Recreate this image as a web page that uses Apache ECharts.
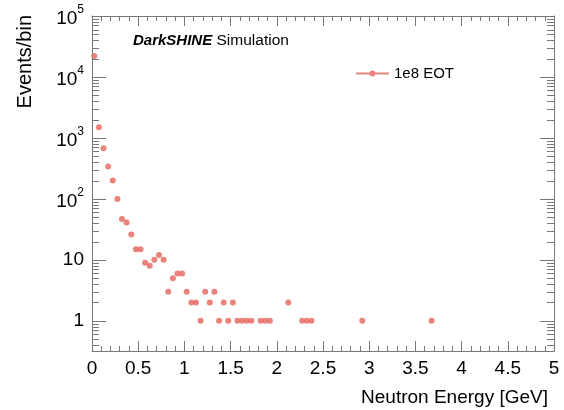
<!DOCTYPE html>
<html>
<head>
<meta charset="utf-8">
<script src="https://cdn.jsdelivr.net/npm/echarts@6/dist/echarts.min.js"></script>
<style>
  html, body { margin: 0; padding: 0; background: #fff; }
  #chart { width: 564px; height: 410px; }
</style>
</head>
<body>
<div id="chart"></div>
<script>
  // bin centres (GeV) and counts
  var energies = [0.025, 0.075, 0.125, 0.175, 0.225, 0.275, 0.325, 0.375, 0.425, 0.475,
    0.525, 0.575, 0.625, 0.675, 0.725, 0.775, 0.825, 0.875, 0.925, 0.975,
    1.025, 1.075, 1.125, 1.175, 1.225, 1.275, 1.325, 1.375, 1.425, 1.475,
    1.525, 1.575, 1.625, 1.675, 1.725, 1.825, 1.875, 1.925, 2.125, 2.275,
    2.325, 2.375, 2.925, 3.675];
  var counts = [22000, 1500, 680, 340, 200, 100, 47, 41, 26, 15,
    15, 9, 8, 10, 12, 10, 3, 5, 6, 6,
    3, 2, 2, 1, 3, 2, 3, 1, 2, 1,
    2, 1, 1, 1, 1, 1, 1, 1, 2, 1,
    1, 1, 1, 1];
  var seriesName = '1e8 EOT';
  var xTitle = 'Neutron Energy [GeV]';
  var yTitle = 'Events/bin';
  var xMin = 0, xMax = 5, xStep = 0.5;
  var yMin = 0.32, yMax = 1e5;

  var points = energies.map(function (e, i) { return [e, counts[i]]; });

  // log axis ticks: decades and 2..9 x 10^k in between
  var majorY = [];
  var minorY = [];
  for (var k = -1; k <= 4; k++) {
    var d = Math.pow(10, k);
    if (d > yMin && d < yMax) majorY.push([xMin, d]);
    for (var m = 2; m <= 9; m++) {
      var v = m * d;
      if (v >= yMin && v <= yMax) minorY.push([xMin, v]);
    }
  }

  var axisColor = '#777';
  var font = 'Liberation Sans, Arial, sans-serif';

  function yLabel(value) {
    var e = Math.round(Math.log(value) / Math.LN10);
    if (Math.abs(value - Math.pow(10, e)) > 1e-6 * value) return '';
    if (e === 0) return '1';
    if (e === 1) return '10';
    return '{b|10}{s|' + e + '}';
  }

  // ticks on both y sides, drawn through the y scale
  function tickSeries(name, data, len) {
    return {
      name: name,
      type: 'custom',
      silent: true,
      xAxisIndex: 0,
      yAxisIndex: 0,
      data: data,
      renderItem: function (params, api) {
        var val = api.value(1);
        var l = api.coord([xMin, val]);
        var r = api.coord([xMax, val]);
        var y = Math.round(l[1]) + 0.5;
        return {
          type: 'group',
          children: [
            { type: 'line', shape: { x1: l[0], y1: y, x2: l[0] + len, y2: y }, style: { stroke: axisColor, lineWidth: 1 } },
            { type: 'line', shape: { x1: r[0] - len, y1: y, x2: r[0], y2: y }, style: { stroke: axisColor, lineWidth: 1 } }
          ]
        };
      }
    };
  }

  var chart = echarts.init(document.getElementById('chart'), null, { renderer: 'canvas' });
  chart.setOption({
    backgroundColor: '#fff',
    animation: false,
    textStyle: { fontFamily: font },
    grid: { left: 92, right: 10, top: 16, bottom: 59, containLabel: false },
    legend: {
      data: [seriesName],
      left: 356,
      top: 66,
      padding: 0,
      itemWidth: 33,
      itemHeight: 6,
      icon: 'path://M0,2H33V4H0Z M16.5,0A3,3 0 1 1 16.49,0Z',
      textStyle: { fontSize: 15, color: '#000', fontFamily: font }
    },
    graphic: [
      {
        type: 'text', left: 133, top: 33,
        style: {
          text: '{a|DarkSHINE}{b| Simulation}',
          rich: {
            a: { fontSize: 15, fontWeight: 'bold', fontStyle: 'italic', fill: '#000', fontFamily: font },
            b: { fontSize: 15.5, fill: '#000', fontFamily: font }
          }
        }
      },
      {
        type: 'text', x: 548, y: 398,
        style: { text: xTitle, fontSize: 19, fill: '#000', align: 'right', verticalAlign: 'middle', fontFamily: font }
      },
      {
        type: 'text', x: 25, y: 15, rotation: Math.PI / 2,
        style: { text: yTitle, fontSize: 20, fill: '#000', align: 'right', verticalAlign: 'middle', fontFamily: font }
      }
    ],
    xAxis: [{
      type: 'value', min: xMin, max: xMax, interval: xStep,
      axisLine: { show: true, onZero: false, lineStyle: { color: axisColor } },
      axisTick: { show: true, inside: true, length: 10, lineStyle: { color: axisColor } },
      minorTick: { show: true, splitNumber: 5, length: 5, lineStyle: { color: axisColor } },
      axisLabel: { inside: false, fontSize: 19, color: '#000', margin: 8, fontFamily: font },
      splitLine: { show: false }
    }, {
      type: 'value', position: 'top', min: xMin, max: xMax, interval: xStep,
      axisLine: { show: true, onZero: false, lineStyle: { color: axisColor } },
      axisTick: { show: true, inside: true, length: 10, lineStyle: { color: axisColor } },
      minorTick: { show: true, splitNumber: 5, length: 5, lineStyle: { color: axisColor } },
      axisLabel: { show: false },
      splitLine: { show: false }
    }],
    yAxis: [{
      type: 'log', min: yMin, max: yMax, logBase: 10,
      axisLine: { show: true, onZero: false, lineStyle: { color: axisColor } },
      axisTick: { show: false },
      axisLabel: {
        fontSize: 19, color: '#000', margin: 8, fontFamily: font,
        showMinLabel: true, showMaxLabel: true,
        formatter: yLabel,
        rich: {
          b: { fontSize: 19, fontFamily: font, verticalAlign: 'bottom', padding: [6, 0, 0, 0] },
          s: { fontSize: 12, fontFamily: font, verticalAlign: 'top' }
        }
      },
      splitLine: { show: false }
    }, {
      type: 'log', position: 'right', min: yMin, max: yMax, logBase: 10,
      axisLine: { show: true, onZero: false, lineStyle: { color: axisColor } },
      axisTick: { show: false },
      axisLabel: { show: false },
      splitLine: { show: false }
    }],
    series: [{
      name: seriesName,
      type: 'scatter',
      xAxisIndex: 0,
      yAxisIndex: 0,
      symbol: 'circle',
      symbolSize: 6,
      itemStyle: { color: '#e5645b' },
      clip: false,
      z: 3,
      data: points
    },
    tickSeries('majorTicks', majorY, 14),
    tickSeries('minorTicks', minorY, 7)]
  });
</script>
</body>
</html>
